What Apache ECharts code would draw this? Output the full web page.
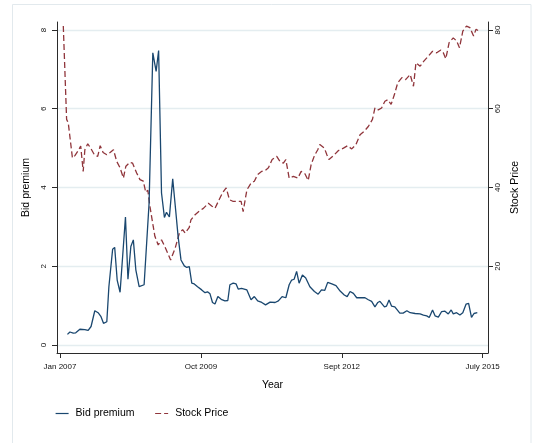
<!DOCTYPE html>
<html>
<head>
<meta charset="utf-8">
<script src="https://cdn.jsdelivr.net/npm/echarts@6/dist/echarts.min.js"></script>
<style>
  html, body { margin: 0; padding: 0; background: #ffffff; }
  #chart { width: 534px; height: 443px; }
</style>
</head>
<body>
<div id="chart"></div>
<script>
// Horizontal positions are months counted from January 2007.
const bidPremium = [
  [1.8, 0.27], [2.4, 0.33], [3.2, 0.30], [3.8, 0.31], [4.8, 0.40], [6.0, 0.39],
  [6.8, 0.37], [7.5, 0.47], [8.4, 0.87], [9.2, 0.82], [9.9, 0.72], [10.5, 0.55],
  [11.3, 0.59], [11.8, 1.48], [12.7, 2.43], [13.2, 2.48], [13.8, 1.65], [14.5, 1.34],
  [15.8, 3.25], [16.4, 1.67], [17.1, 2.50], [17.7, 2.67], [18.3, 1.91], [19.1, 1.48],
  [20.3, 1.53], [21.5, 3.60], [22.4, 7.42], [23.2, 6.95], [23.8, 7.48], [24.5, 3.86],
  [25.2, 3.24], [25.7, 3.37], [26.4, 3.25], [27.2, 4.22], [27.9, 3.44], [28.5, 2.76],
  [29.2, 2.16], [30.0, 2.01], [30.6, 1.97], [31.2, 1.99], [31.8, 1.57], [32.4, 1.55],
  [33.2, 1.48], [34.2, 1.40], [35.0, 1.33], [35.6, 1.35], [36.2, 1.30], [36.8, 1.08],
  [37.4, 1.04], [38.1, 1.23], [38.9, 1.16], [39.8, 1.12], [40.5, 1.13], [41.0, 1.53],
  [41.8, 1.57], [42.5, 1.55], [43.0, 1.42], [43.8, 1.44], [45.1, 1.40], [46.1, 1.15],
  [46.9, 1.23], [47.7, 1.12], [48.7, 1.08], [49.6, 1.02], [50.7, 1.09], [51.9, 1.08],
  [52.7, 1.12], [53.6, 1.23], [54.5, 1.20], [55.3, 1.53], [55.9, 1.65], [56.5, 1.67],
  [57.1, 1.87], [57.7, 1.57], [58.5, 1.78], [59.3, 1.70], [60.3, 1.48], [61.4, 1.36],
  [62.3, 1.29], [63.1, 1.40], [63.9, 1.39], [64.6, 1.59], [65.6, 1.55], [66.6, 1.51],
  [67.6, 1.37], [68.6, 1.27], [69.3, 1.23], [70.0, 1.36], [70.8, 1.31], [71.6, 1.20],
  [72.8, 1.20], [73.6, 1.20], [74.4, 1.15], [75.2, 1.11], [76.0, 0.97], [76.7, 1.08],
  [77.2, 1.11], [78.3, 0.97], [78.8, 0.99], [79.4, 1.14], [80.0, 0.99], [80.8, 0.97],
  [82.0, 0.81], [82.8, 0.81], [83.7, 0.87], [84.5, 0.82], [85.7, 0.80], [86.9, 0.79],
  [87.7, 0.76], [88.5, 0.74], [89.1, 0.70], [89.9, 0.89], [90.5, 0.74], [91.3, 0.71],
  [92.1, 0.85], [92.9, 0.86], [93.7, 0.79], [94.4, 0.89], [94.9, 0.79], [95.7, 0.82],
  [96.5, 0.76], [97.2, 0.82], [98.0, 1.04], [98.6, 1.06], [99.3, 0.70], [99.9, 0.80],
  [100.7, 0.82]
];

const stockPrice = [
  [0.8, 81.0], [1.6, 57.3], [2.0, 56.4], [3.0, 47.5], [3.6, 48.1], [4.3, 49.2],
  [5.0, 50.5], [5.6, 44.1], [6.0, 49.6], [6.7, 51.1], [7.4, 50.0], [8.3, 48.3],
  [9.1, 47.9], [9.7, 50.6], [10.4, 48.9], [11.3, 48.3], [12.1, 48.9], [12.9, 49.6],
  [13.7, 46.6], [14.5, 45.0], [15.3, 42.4], [15.9, 45.4], [16.9, 46.4], [17.5, 46.2],
  [18.5, 43.7], [19.3, 42.0], [20.1, 41.6], [20.7, 38.8], [21.2, 39.3], [21.7, 35.2],
  [22.5, 30.1], [22.9, 27.6], [23.7, 25.4], [24.5, 26.7], [25.3, 25.0], [26.7, 21.6],
  [27.8, 24.6], [28.8, 28.4], [29.6, 29.3], [30.2, 28.4], [31.2, 29.9], [31.6, 31.8],
  [32.6, 33.1], [33.5, 33.9], [34.6, 34.7], [35.8, 36.0], [36.6, 35.3], [37.4, 34.7],
  [38.4, 36.9], [39.2, 38.6], [40.1, 39.9], [40.9, 36.9], [41.7, 36.5], [42.8, 36.5],
  [43.7, 36.5], [44.2, 33.9], [45.1, 39.4], [46.1, 41.1], [46.9, 41.6], [47.7, 43.3],
  [48.7, 44.1], [49.6, 44.4], [50.3, 45.0], [51.2, 47.1], [52.3, 47.9], [53.1, 46.6],
  [53.9, 46.2], [54.5, 47.1], [55.3, 42.4], [56.3, 42.8], [57.4, 42.4], [58.2, 44.1],
  [59.1, 43.5], [59.9, 41.8], [60.6, 45.8], [61.4, 48.1], [62.2, 49.6], [62.7, 50.9],
  [63.8, 50.0], [64.4, 48.3], [64.9, 47.1], [66.0, 48.1], [67.2, 49.4], [68.4, 50.0],
  [69.4, 50.6], [70.4, 49.8], [71.4, 50.9], [72.4, 53.4], [73.4, 54.3], [74.4, 55.5],
  [75.4, 57.3], [76.0, 60.2], [76.8, 59.7], [77.6, 60.2], [78.4, 61.9], [79.1, 62.3],
  [79.9, 61.1], [80.7, 63.6], [81.5, 66.6], [82.5, 67.9], [83.4, 67.4], [84.5, 68.7],
  [85.3, 65.7], [85.9, 71.7], [86.9, 70.8], [87.8, 72.1], [88.9, 73.4], [89.9, 74.6],
  [90.9, 74.2], [91.9, 74.9], [92.5, 74.2], [93.1, 72.7], [93.9, 76.8], [94.9, 78.0],
  [95.7, 77.2], [96.4, 75.5], [97.2, 79.7], [98.1, 81.0], [98.9, 80.6], [99.8, 78.5],
  [100.4, 80.2], [101.4, 79.5]
];

const xTickMonths = [0, 34, 68, 102];
const xTickLabels = ['Jan 2007', 'Oct 2009', 'Sept 2012', 'July 2015'];
const leftTicks = [0, 2, 4, 6, 8];
const rightTicks = [20, 40, 60, 80];

const FONT = '"Liberation Sans", Arial, Helvetica, sans-serif';
const NAVY = '#1a476f';
const MAROON = '#90353b';
const AXIS = '#2b2b2b';
const GRID = '#e4edf0';

const chart = echarts.init(document.getElementById('chart'), null, { renderer: 'canvas' });

chart.setOption({
  backgroundColor: '#ffffff',
  animation: false,
  textStyle: { fontFamily: FONT },
  graphic: [{
    type: 'rect',
    shape: { x: 12.5, y: 4.5, width: 518.5, height: 460 },
    style: { fill: 'none', stroke: '#e2e9ed', lineWidth: 1 },
    silent: true,
    z: -1
  }],
  grid: { left: 57, right: 46, top: 22, bottom: 90, containLabel: false },
  xAxis: {
    type: 'value',
    min: -0.72,
    max: 103.28,
    name: 'Year',
    nameLocation: 'middle',
    nameGap: 27,
    nameTextStyle: { fontFamily: FONT, fontSize: 10.5, color: '#000' },
    axisLine: { show: true, onZero: false, lineStyle: { color: AXIS, width: 1 } },
    axisTick: { show: true, length: 5, customValues: xTickMonths, lineStyle: { color: AXIS } },
    axisLabel: {
      customValues: xTickMonths,
      margin: 10,
      fontFamily: FONT,
      fontSize: 8,
      color: '#111',
      formatter: v => xTickLabels[xTickMonths.indexOf(v)] || ''
    },
    splitLine: { show: false }
  },
  yAxis: [{
    type: 'value',
    position: 'left',
    min: -0.203,
    max: 8.203,
    name: 'Bid premium',
    nameLocation: 'middle',
    nameRotate: 90,
    nameGap: 21,
    nameTextStyle: { fontFamily: FONT, fontSize: 10.5, color: '#000' },
    axisLine: { show: true, onZero: false, lineStyle: { color: AXIS, width: 1 } },
    axisTick: { show: true, length: 5, customValues: leftTicks, lineStyle: { color: AXIS } },
    axisLabel: {
      customValues: leftTicks,
      rotate: 90,
      margin: 9,
      fontFamily: FONT,
      fontSize: 8,
      color: '#111'
    },
    splitLine: { show: true, lineStyle: { color: GRID, width: 1.4 } }
  }, {
    type: 'value',
    position: 'right',
    min: -2.03,
    max: 82.03,
    name: 'Stock Price',
    nameLocation: 'middle',
    nameRotate: 90,
    nameGap: 21,
    nameTextStyle: { fontFamily: FONT, fontSize: 10.5, color: '#000' },
    axisLine: { show: true, onZero: false, lineStyle: { color: AXIS, width: 1 } },
    axisTick: { show: true, length: 5, customValues: rightTicks, lineStyle: { color: AXIS } },
    axisLabel: {
      customValues: rightTicks,
      rotate: 90,
      margin: 6,
      fontFamily: FONT,
      fontSize: 8,
      color: '#111'
    },
    splitLine: { show: false }
  }],
  legend: {
    left: 50,
    top: 403,
    itemWidth: 13,
    itemHeight: 12,
    itemGap: 20,
    // only the line sample is shown for each entry, no marker
    itemStyle: { color: 'rgba(0,0,0,0)', borderWidth: 0, opacity: 0 },
    lineStyle: { width: 1.2 },
    textStyle: { fontFamily: FONT, fontSize: 10.5, color: '#000', padding: [0, 0, 0, 2] },
    data: ['Bid premium', 'Stock Price']
  },
  series: [{
    name: 'Bid premium',
    type: 'line',
    yAxisIndex: 0,
    data: bidPremium,
    symbol: 'none',
    showSymbol: false,
    smooth: false,
    lineStyle: { color: NAVY, width: 1.3 },
    itemStyle: { color: NAVY },
    z: 3
  }, {
    name: 'Stock Price',
    type: 'line',
    yAxisIndex: 1,
    data: stockPrice,
    symbol: 'none',
    showSymbol: false,
    smooth: false,
    lineStyle: { color: MAROON, width: 1.3, type: [6, 3] },
    itemStyle: { color: MAROON },
    z: 2
  }]
});
</script>
</body>
</html>
